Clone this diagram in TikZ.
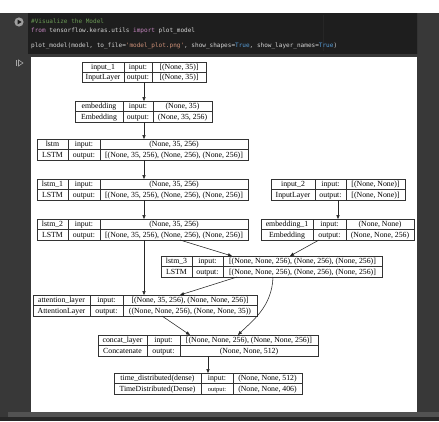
\documentclass[tikz,border=0pt]{standalone}
\usepackage{fontspec}
\setmainfont{Liberation Serif}
\newfontfamily\codefont{DejaVu Sans Mono}[Ligatures=TeXOff]
\usetikzlibrary{arrows.meta,calc}
\definecolor{codebg}{HTML}{1E1E1E}
\definecolor{gutter}{HTML}{383838}
\definecolor{sidebar}{HTML}{383838}
\definecolor{band}{HTML}{525252}
\definecolor{bottombar}{HTML}{272727}
\definecolor{codetxt}{HTML}{D4D4D4}
\definecolor{codecom}{HTML}{6A9955}
\definecolor{codekw}{HTML}{C586C0}
\definecolor{codestr}{HTML}{CE9178}
\definecolor{codebool}{HTML}{569CD6}
\definecolor{linecol}{HTML}{333333}

\newcommand\outlabel{output:}
\newcommand\lbox[7]{%
  \pgfmathsetmacro\Lw{#5-#2}\pgfmathsetmacro\Lh{#7-#6}%
  \pgfmathsetmacro\Lcx{(#2+#5)/2}\pgfmathsetmacro\Lcy{(#6+#7)/2}%
  \node[layerbox, minimum width=\Lw pt, minimum height=\Lh pt] (#1) at (\Lcx,\Lcy) {};
  \draw[cellline] (#3,#6) -- (#3,#7) (#4,#6) -- (#4,#7) (#2,\Lcy) -- (#5,\Lcy);
  \pgfmathsetmacro\La{(#2+#3)/2}\pgfmathsetmacro\Lb{(#3+#4)/2}\pgfmathsetmacro\Lc{(#4+#5)/2}%
  \pgfmathsetmacro\Lr{(#6+\Lcy)/2+2.6}\pgfmathsetmacro\Ls{(\Lcy+#7)/2+2.6}%
}
\newcommand\ltext[5]{%
  \node[celltext] (#1-n) at (\La,\Lr) {#2};
  \node[celltext] (#1-c) at (\La,\Ls) {#3};
  \node[celltext] (#1-il) at (\Lb,\Lr) {input:};
  \node[celltext] (#1-ol) at (\Lb,\Ls) {\outlabel};
  \node[celltext] (#1-iv) at (\Lc,\Lr) {#4};
  \node[celltext] (#1-ov) at (\Lc,\Ls) {#5};
}

\begin{document}
\begin{tikzpicture}[x=1pt,y=-1pt,
  layerbox/.style={draw=linecol, line width=0.55pt, inner sep=0pt, outer sep=0pt, rectangle},
  cellline/.style={draw=linecol, line width=0.55pt},
  celltext/.style={inner sep=0pt, anchor=base, text=black, font=\fontsize{7.8}{8}\selectfont},
  conn/.style={draw=black!85, line width=0.55pt, -{Triangle[length=4pt,width=3.2pt]}},
  codetext/.style={inner sep=0pt, anchor=base west, text=codetxt, font=\codefont\fontsize{6.05}{7}\selectfont}]
\useasboundingbox (0,0) rectangle (439,421);
% backgrounds
\fill[white] (0,0) rectangle (439,13);
\fill[sidebar] (0,13) rectangle (439,421);
\fill[gutter] (0,13) rectangle (28,54);
\fill[codebg] (28,13) rectangle (417,54);
\fill[gutter] (0,54) rectangle (417,412);
\fill[white] (31,57) rectangle (417,412);
\fill[band] (8,412) rectangle (439,417);
\fill[bottombar] (0,417) rectangle (439,421);
\draw[gray!40!black, line width=0.5pt] (417.5,13) -- (417.5,54);
% play button and output icon
\fill[gray!75] (19,22) circle (4.6);
\fill[codebg] (17.6,19.6) -- (17.6,24.4) -- (21.6,22) -- cycle;
\draw[gray!70, line width=0.6pt] (16.5,60) -- (16.5,66);
\draw[gray!70, line width=0.6pt] (18.5,60) -- (23,63) -- (18.5,66) -- cycle;
% ruler
\draw[gray!30!black, line width=0.4pt] (323,15) -- (323,51);
% code
\node[codetext] (code1) at (31,23.8) {\textcolor{codecom}{\#Visualize the Model}};
\node[codetext] (code2) at (31,32) {\textcolor{codekw}{from} tensorflow.keras.utils \textcolor{codekw}{import} plot\_model};
\node[codetext] (code3) at (31,47.5) {plot\_model(model, to\_file=\textcolor{codestr}{'model\_plot.png'}, show\_shapes=\textcolor{codebool}{True}, show\_layer\_names=\textcolor{codebool}{True})};

% layers
\lbox{input1}{82}{124}{152}{206}{62}{82}
\ltext{input1}{input\_1}{InputLayer}{[(None, 35)]}{[(None, 35)]}
\lbox{embedding}{75}{123}{153}{212}{101}{122}
\ltext{embedding}{embedding}{Embedding}{(None, 35)}{(None, 35, 256)}
\lbox{lstm}{37}{68}{100}{248}{139}{160}
\ltext{lstm}{lstm}{LSTM}{(None, 35, 256)}{[(None, 35, 256), (None, 256), (None, 256)]}
\lbox{lstm1}{37}{68}{100}{248}{179}{200}
\ltext{lstm1}{lstm\_1}{LSTM}{(None, 35, 256)}{[(None, 35, 256), (None, 256), (None, 256)]}
\lbox{lstm2}{37}{68}{100}{248}{219}{240}
\ltext{lstm2}{lstm\_2}{LSTM}{(None, 35, 256)}{[(None, 35, 256), (None, 256), (None, 256)]}
\lbox{input2}{271}{315}{346}{405}{179}{200}
\ltext{input2}{input\_2}{InputLayer}{[(None, None)]}{[(None, None)]}
\lbox{emb1}{261}{313}{346}{414}{219}{240}
\ltext{emb1}{embedding\_1}{Embedding}{(None, None)}{(None, None, 256)}
\lbox{lstm3}{161}{192}{223}{382}{256}{277}
\ltext{lstm3}{lstm\_3}{LSTM}{[(None, None, 256), (None, 256), (None, 256)]}{[(None, None, 256), (None, 256), (None, 256)]}
\lbox{attention}{33}{90}{123}{257}{295}{316}
\ltext{attention}{attention\_layer}{AttentionLayer}{[(None, 35, 256), (None, None, 256)]}{((None, None, 256), (None, None, 35))}
\lbox{concat}{98}{147}{180}{318}{335}{356}
\ltext{concat}{concat\_layer}{Concatenate}{[(None, None, 256), (None, None, 256)]}{(None, None, 512)}
\renewcommand\outlabel{{\fontsize{6.4}{7}\selectfont output:}}
\lbox{td}{114}{201}{233}{302}{373}{394}
\ltext{td}{time\_distributed(dense)}{TimeDistributed(Dense)}{(None, None, 512)}{(None, None, 406)}

% connector end points
\coordinate (l2out) at ($(lstm2.south west)+(143,0)$);
\coordinate (l3inA) at ($(lstm3.north west)+(71,0)$);
\coordinate (e1out) at ($(emb1.south west)+(58,0)$);
\coordinate (l3inB) at ($(lstm3.north west)+(129,0)$);
\coordinate (l3outA) at ($(lstm3.south west)+(76,0)$);
\coordinate (attinB) at ($(attention.north west)+(147,0)$);
\coordinate (l3outB) at ($(lstm3.south west)+(112,0)$);
\coordinate (catinB) at ($(concat.north west)+(140,0)$);
\coordinate (attout) at ($(attention.south west)+(129,0)$);
\coordinate (catinA) at ($(concat.north west)+(92,0)$);

% connectors
\draw[conn] (input1.south) -- (input1.south |- embedding.north);
\draw[conn] (input1.south |- embedding.south) -- (input1.south |- lstm.north);
\draw[conn] (input1.south |- lstm.south) -- (input1.south |- lstm1.north);
\draw[conn] (input1.south |- lstm1.south) -- (input1.south |- lstm2.north);
\draw[conn] (input1.south |- lstm2.south) -- (input1.south |- attention.north);
\draw[conn] (l2out) -- (l3inA);
\draw[conn] (input2.south) -- (input2.south |- emb1.north);
\draw[conn] (e1out) -- (l3inB);
\draw[conn] (l3outA) -- (attinB);
\draw[conn] (l3outB) .. controls ($(l3outB)+(-1,30)$) and ($(catinB)+(14,-14)$) .. (catinB);
\draw[conn] (attout) -- (catinA);
\draw[conn] (concat.south) -- (concat.south |- td.north);
\end{tikzpicture}
\end{document}
